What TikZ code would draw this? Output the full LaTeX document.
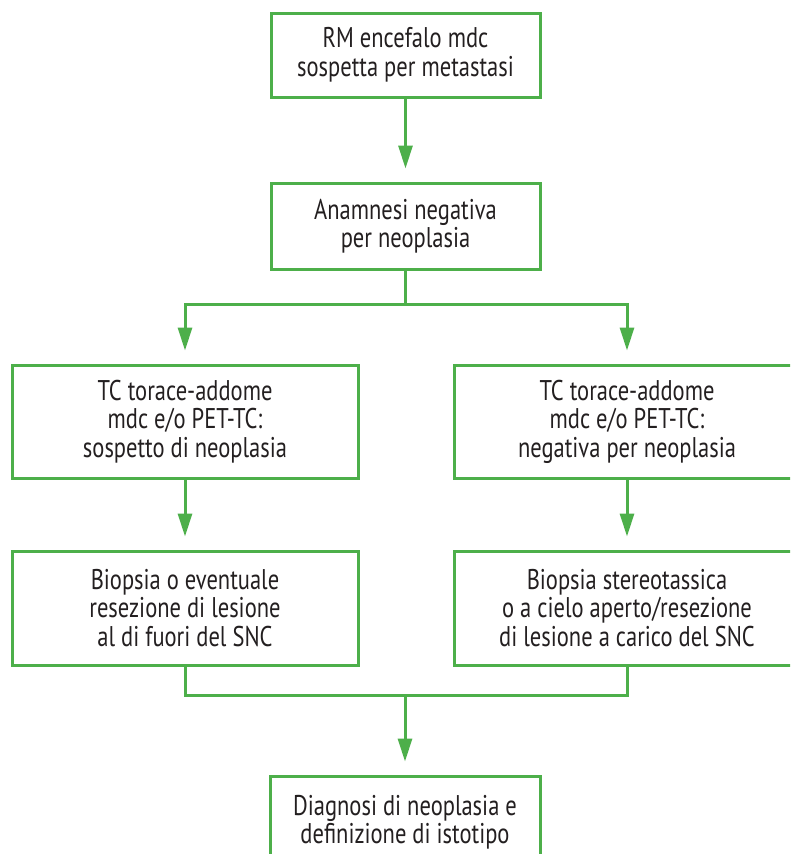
\documentclass[tikz,border=0pt]{standalone}
\usepackage{fontspec}
\setmainfont{PT Sans}[FakeStretch=0.79]
\usetikzlibrary{arrows.meta}
\definecolor{flowgreen}{RGB}{77,175,74}
\definecolor{flowtext}{RGB}{35,31,32}
\tikzset{
  flowbox/.style={draw=flowgreen, line width=3pt, rectangle, align=center,
    text=flowtext, inner sep=0pt, font=\fontsize{28.5}{28.5}\selectfont},
  flowline/.style={draw=flowgreen, line width=3pt},
  flowarrow/.style={flowline, -{Triangle[length=23pt,width=14pt]}, shorten >=13pt},
}
\begin{document}
\begin{tikzpicture}[x=1pt,y=-1pt]
\useasboundingbox (0,0) rectangle (790,854);
\fill[white] (0,0) rectangle (790,854);
\clip (0,0) rectangle (790,854);

% boxes
\node[flowbox, minimum width=269pt, minimum height=84pt] (rm) at (405.5,55)
  {RM encefalo mdc\\sospetta per metastasi};
\node[flowbox, minimum width=269pt, minimum height=86pt] (anam) at (405.5,226)
  {Anamnesi negativa\\per neoplasia};
\node[flowbox, minimum width=346pt, minimum height=113pt] (tcpos) at (185,421.5)
  {TC torace-addome\\mdc e/o PET-TC:\\sospetto di neoplasia};
\node[flowbox, minimum width=346pt, minimum height=113pt] (tcneg) at (627,421.5)
  {TC torace-addome\\mdc e/o PET-TC:\\negativa per neoplasia};
\node[flowbox, minimum width=346pt, minimum height=114pt] (bioext) at (185,608)
  {Biopsia o eventuale\\resezione di lesione\\al di fuori del SNC};
\node[flowbox, minimum width=346pt, minimum height=114pt] (biosnc) at (627,608)
  {Biopsia stereotassica\\o a cielo aperto/resezione\\di lesione a carico del SNC};
\node[flowbox, minimum width=270pt, minimum height=92pt] (diag) at (405,822)
  {Diagnosi di neoplasia e\\definizione di istotipo};

% junction points
\coordinate (split) at (405.5,304);
\coordinate (join) at (405,695);

% connectors
\draw[flowarrow] (rm.south) -- (anam.north);
\draw[flowline] (anam.south) -- (split);
\draw[flowarrow] (split) -| (tcpos.north);
\draw[flowarrow] (split) -| (tcneg.north);
\draw[flowarrow] (tcpos.south) -- (bioext.north);
\draw[flowarrow] (tcneg.south) -- (biosnc.north);
\draw[flowline] (bioext.south) |- (join);
\draw[flowline] (biosnc.south) |- (join);
\draw[flowarrow] (join) -- (diag.north);
\end{tikzpicture}
\end{document}
